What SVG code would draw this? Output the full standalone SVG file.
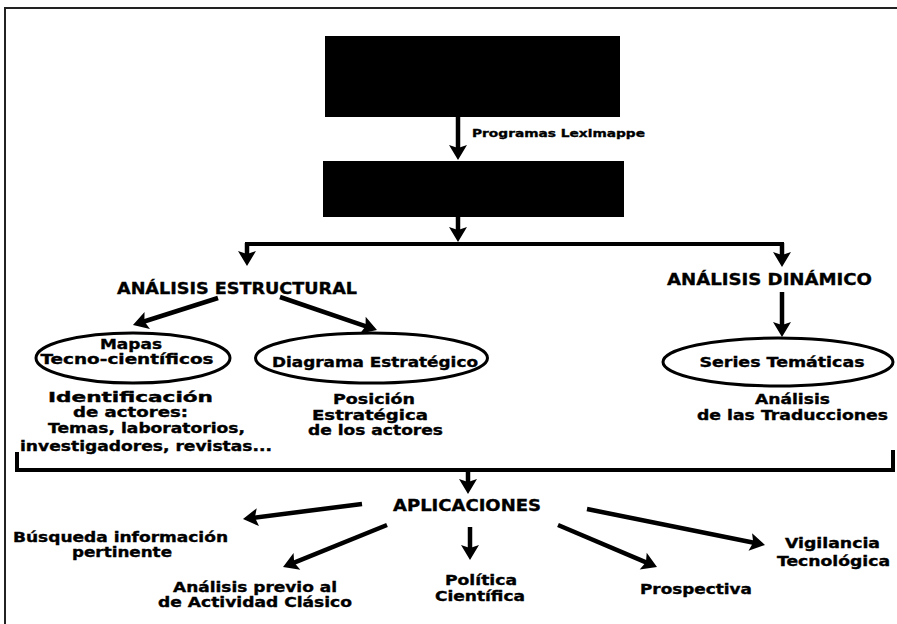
<svg xmlns="http://www.w3.org/2000/svg" width="897" height="624" viewBox="0 0 897 624">
<defs>
<marker id="ah" markerUnits="userSpaceOnUse" viewBox="-6 -10 18 20" refX="0" refY="0" markerWidth="18" markerHeight="20" orient="auto">
<path d="M10,0 L-5,-9 L-2,0 L-5,9 Z" fill="#000"/>
</marker>
<style>
text{font-family:"DejaVu Sans","Verdana",sans-serif;font-weight:bold;fill:#000;stroke:#000;stroke-width:0.35}
.h{font-size:16px}
.t{font-size:13.5px}
.s{font-size:11px}
.c{text-anchor:middle}
.ar{stroke:#000;stroke-width:4.5;fill:none;marker-end:url(#ah)}
.ln{stroke:#000;stroke-width:4;fill:none}
.el{fill:#fff;stroke:#000;stroke-width:3}
</style>
</defs>
<rect width="897" height="624" fill="#fff"/>
<g id="frame">
<line x1="5" y1="8" x2="897" y2="8" stroke="#222" stroke-width="2"/>
<line x1="5" y1="7" x2="5" y2="624" stroke="#222" stroke-width="2"/>
</g>
<g id="connectors">
<line class="ar" x1="458" y1="117" x2="458" y2="150"/>
<line class="ar" x1="458" y1="217" x2="458" y2="232"/>
<line class="ln" x1="245" y1="244" x2="784" y2="244" stroke-width="3.5"/>
<line class="ar" x1="247" y1="243" x2="247" y2="256"/>
<line class="ar" x1="782" y1="243" x2="782" y2="257"/>
<line class="ar" x1="782" y1="292" x2="782" y2="327"/>
<line class="ar" x1="218" y1="298" x2="142.5" y2="322"/>
<line class="ar" x1="280" y1="297" x2="367.5" y2="326.8"/>
<path class="ln" d="M17,452 V470 H893 V450"/>
<line class="ar" x1="468" y1="470" x2="468" y2="484"/>
<line class="ar" x1="470" y1="527" x2="470" y2="550"/>
<line class="ar" x1="362" y1="504" x2="252.9" y2="517.8"/>
<line class="ar" x1="387" y1="525" x2="292.3" y2="563.3"/>
<line class="ar" x1="558" y1="525" x2="647.8" y2="563.1"/>
<line class="ar" x1="587" y1="509" x2="755.2" y2="543"/>
</g>
<g id="box-source">
<rect x="325" y="36" width="295" height="81" fill="#000"/>
</g>
<text class="s" x="472" y="137" textLength="173" lengthAdjust="spacingAndGlyphs">Programas Leximappe</text>
<g id="box-result">
<rect x="323" y="161" width="301" height="56" fill="#000"/>
</g>
<g id="analisis-estructural">
<text class="h c" x="237" y="294" textLength="240" lengthAdjust="spacingAndGlyphs">ANÁLISIS ESTRUCTURAL</text>
</g>
<g id="analisis-dinamico">
<text class="h c" x="769.5" y="285" textLength="205" lengthAdjust="spacingAndGlyphs">ANÁLISIS DINÁMICO</text>
</g>
<g id="mapas">
<ellipse class="el" cx="133" cy="358" rx="97" ry="25"/>
<text class="t c" x="131" y="349" textLength="62" lengthAdjust="spacingAndGlyphs">Mapas</text>
<text class="t c" x="127" y="364" textLength="173" lengthAdjust="spacingAndGlyphs">Tecno-científicos</text>
<text class="t c" x="130.5" y="402" textLength="165" lengthAdjust="spacingAndGlyphs">Identificación</text>
<text class="t c" x="130.5" y="417" textLength="115" lengthAdjust="spacingAndGlyphs">de actores:</text>
<text class="t c" x="146.5" y="433" textLength="197" lengthAdjust="spacingAndGlyphs">Temas, laboratorios,</text>
<text class="t c" x="146" y="451" textLength="252" lengthAdjust="spacingAndGlyphs">investigadores, revistas...</text>
</g>
<g id="diagrama">
<ellipse class="el" cx="371.5" cy="358" rx="116" ry="25"/>
<text class="t c" x="375" y="367" textLength="206" lengthAdjust="spacingAndGlyphs">Diagrama Estratégico</text>
<text class="t c" x="374" y="404" textLength="82" lengthAdjust="spacingAndGlyphs">Posición</text>
<text class="t c" x="370" y="420" textLength="116" lengthAdjust="spacingAndGlyphs">Estratégica</text>
<text class="t c" x="375.5" y="435" textLength="135" lengthAdjust="spacingAndGlyphs">de los actores</text>
</g>
<g id="series">
<ellipse class="el" cx="778" cy="362" rx="115" ry="24"/>
<text class="t c" x="782" y="367" textLength="165" lengthAdjust="spacingAndGlyphs">Series Temáticas</text>
<text class="t c" x="792.5" y="404" textLength="75" lengthAdjust="spacingAndGlyphs">Análisis</text>
<text class="t c" x="792.5" y="420" textLength="191" lengthAdjust="spacingAndGlyphs">de las Traducciones</text>
</g>
<g id="aplicaciones">
<text class="h c" x="467" y="511" textLength="148" lengthAdjust="spacingAndGlyphs">APLICACIONES</text>
</g>
<g id="busqueda">
<text class="t c" x="120.5" y="542" textLength="215" lengthAdjust="spacingAndGlyphs">Búsqueda información</text>
<text class="t c" x="122" y="557" textLength="100" lengthAdjust="spacingAndGlyphs">pertinente</text>
</g>
<g id="analisis-previo">
<text class="t c" x="255" y="592" textLength="164" lengthAdjust="spacingAndGlyphs">Análisis previo al</text>
<text class="t c" x="255" y="607" textLength="194" lengthAdjust="spacingAndGlyphs">de Actividad Clásico</text>
</g>
<g id="politica">
<text class="t c" x="481" y="585" textLength="72" lengthAdjust="spacingAndGlyphs">Política</text>
<text class="t c" x="480" y="601" textLength="90" lengthAdjust="spacingAndGlyphs">Científica</text>
</g>
<g id="prospectiva">
<text class="t c" x="696" y="594" textLength="112" lengthAdjust="spacingAndGlyphs">Prospectiva</text>
</g>
<g id="vigilancia">
<text class="t c" x="832.5" y="548" textLength="95" lengthAdjust="spacingAndGlyphs">Vigilancia</text>
<text class="t c" x="833.5" y="566" textLength="113" lengthAdjust="spacingAndGlyphs">Tecnológica</text>
</g>
</svg>
